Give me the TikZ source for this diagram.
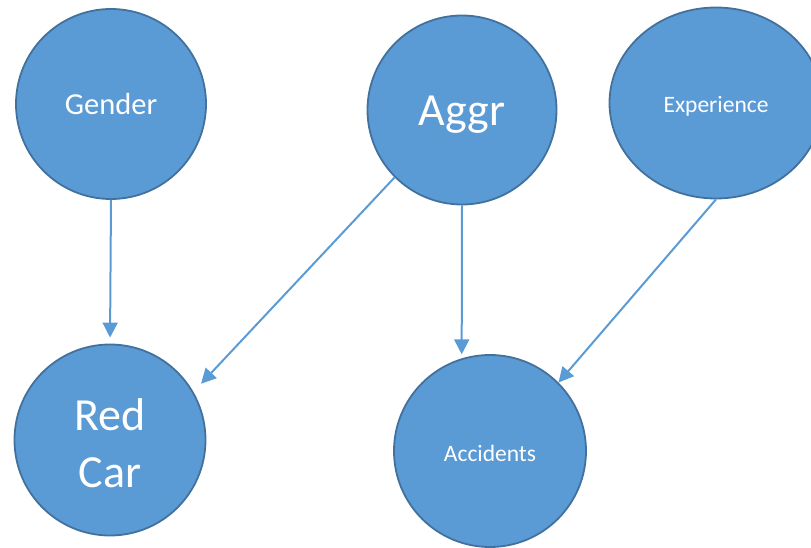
\documentclass[tikz,border=0pt]{standalone}
\usepackage{fontspec}
\setmainfont{Carlito}
\usetikzlibrary{arrows.meta,shapes.geometric}
\definecolor{nodefill}{RGB}{91,155,213}
\definecolor{nodeline}{RGB}{65,113,156}
\definecolor{arrcol}{RGB}{91,155,213}
\newcommand{\lowr}[2]{\raisebox{-#1}[\height][\depth]{#2}}
\tikzset{
  bubble/.style={circle, draw=nodeline, fill=nodefill, line width=1.8pt, inner sep=0pt, minimum size=190pt, text=white, align=center},
  arr/.style={draw=arrcol, line width=2pt, -{Triangle[length=15pt,width=15pt]}},
  big/.style={font=\fontsize{46}{57}\selectfont},
  mid/.style={font=\fontsize{30.5}{37}\selectfont},
  small/.style={font=\fontsize{23.5}{28}\selectfont}
}
\begin{document}
\begin{tikzpicture}[x=1pt,y=-1pt]
\useasboundingbox (0,0) rectangle (811,548);
\clip (0,0) rectangle (811,548);
\node[bubble, mid] (gender) at (111,104) {Gender};
\node[bubble, big, minimum size=189pt, text depth=0pt] (aggr) at (462,110) {\lowr{1pt}{Aggr}};
\node[bubble, ellipse, small, minimum width=213pt, minimum height=191pt] (exp) at (716,103) {\lowr{3pt}{Experience}};
\node[bubble, big, minimum size=191pt] (redcar) at (110,440) {\lowr{3pt}{Red}\\\lowr{3pt}{Car}};
\node[bubble, small, minimum size=192pt] (acc) at (490,451) {\lowr{2pt}{Accidents}};
\draw[arr, shorten >=6pt] (gender.south) -- (redcar.north);
\draw[arr, shorten >=11pt] (aggr.225) -- (redcar.30);
\draw[arr, shorten >=4pt] (aggr.south) -- (acc.107);
\draw[arr] (exp.south) -- (acc.45);
\end{tikzpicture}
\end{document}
